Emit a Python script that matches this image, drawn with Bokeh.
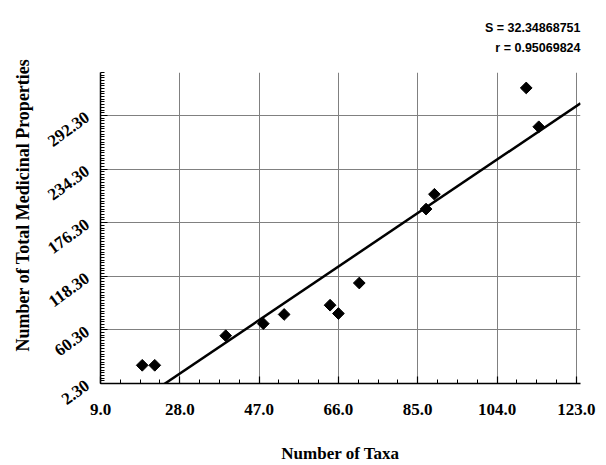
import numpy as np
from bokeh.plotting import figure
from bokeh.models import Range1d, FixedTicker, Title
from bokeh.embed import file_html
from bokeh.resources import INLINE

# data
taxa = [19, 22, 39, 48, 53, 64, 66, 71, 87, 89, 111, 114]
properties = [22, 22, 54, 67, 77, 87, 78, 111, 191, 207, 322, 280]

x_ticks = [9.0, 28.0, 47.0, 66.0, 85.0, 104.0, 123.0]
x_tick_labels = ["9.0", "28.0", "47.0", "66.0", "85.0", "104.0", "123.0"]
y_ticks = [2.3, 60.3, 118.3, 176.3, 234.3, 292.3]
y_tick_labels = ["2.30", "60.30", "118.30", "176.30", "234.30", "292.30"]

stat_s = "S = 32.34868751"
stat_r = "r = 0.95069824"

x_title = "Number of Taxa"
y_title = "Number of Total Medicinal Properties"

W, H = 600, 465
p = figure(width=W, height=H, output_backend="svg", toolbar_location=None,
           x_range=Range1d(9, 124), y_range=Range1d(2.3, 338.7),
           min_border_left=100, min_border_right=W - 580, min_border_top=72,
           min_border_bottom=H - 385)
p.outline_line_color = None
p.background_fill_color = "white"

x_minor = list(np.arange(9.0, 124.0, 4.75))
y_minor = list(np.arange(2.3, 338.8, 2.9))
p.xaxis.ticker = FixedTicker(ticks=x_ticks, minor_ticks=x_minor)
p.yaxis.ticker = FixedTicker(ticks=y_ticks, minor_ticks=y_minor)
p.xaxis.major_label_overrides = {t: l for t, l in zip(x_ticks, x_tick_labels)}
p.yaxis.major_label_overrides = {t: l for t, l in zip(y_ticks, y_tick_labels)}

for ax in (p.xaxis, p.yaxis):
    ax.axis_line_color = "black"
    ax.axis_line_width = 1.5
    ax.major_tick_in = 7
    ax.major_tick_out = 0
    ax.minor_tick_in = 4
    ax.minor_tick_out = 0
    ax.major_tick_line_color = "black"
    ax.minor_tick_line_color = "black"
    ax.major_tick_line_width = 1.2
    ax.minor_tick_line_width = 1
    ax.major_label_text_font = "Liberation Serif"
    ax.major_label_text_font_style = "bold"
    ax.major_label_text_font_size = "17px"
    ax.major_label_text_color = "black"

p.xaxis.major_label_standoff = 20
p.yaxis.major_label_standoff = 13
p.yaxis.major_label_orientation = 0.63

p.xaxis.axis_label = x_title
p.xaxis.axis_label_text_font = "Liberation Serif"
p.xaxis.axis_label_text_font_style = "bold"
p.xaxis.axis_label_text_font_size = "17px"
p.xaxis.axis_label_text_color = "black"
p.xaxis.axis_label_standoff = 26

p.grid.grid_line_color = "#808080"
p.grid.grid_line_width = 1

# regression line
slope, intercept = np.polyfit(taxa, properties, 1)
fx = np.array([9.0, 124.0])
p.line(fx, slope * fx + intercept, line_color="black", line_width=2.5)

p.scatter(taxa, properties, marker="square", angle=np.pi / 4, size=8.3, color="black")

stat_font = "Liberation Sans"
p.add_layout(Title(text=stat_r, align="right", text_font=stat_font, text_font_style="bold",
                   text_font_size="12.5px", text_color="black", standoff=36), "above")
p.add_layout(Title(text=stat_s, align="right", text_font=stat_font, text_font_style="bold",
                   text_font_size="12.5px", text_color="black", standoff=-29), "above")
p.add_layout(Title(text=y_title, align="right", offset=-14, text_font="Liberation Serif",
                   text_font_style="bold", text_font_size="18px", text_color="black",
                   standoff=16), "left")

open("out.html", "w").write(file_html(p, INLINE))
